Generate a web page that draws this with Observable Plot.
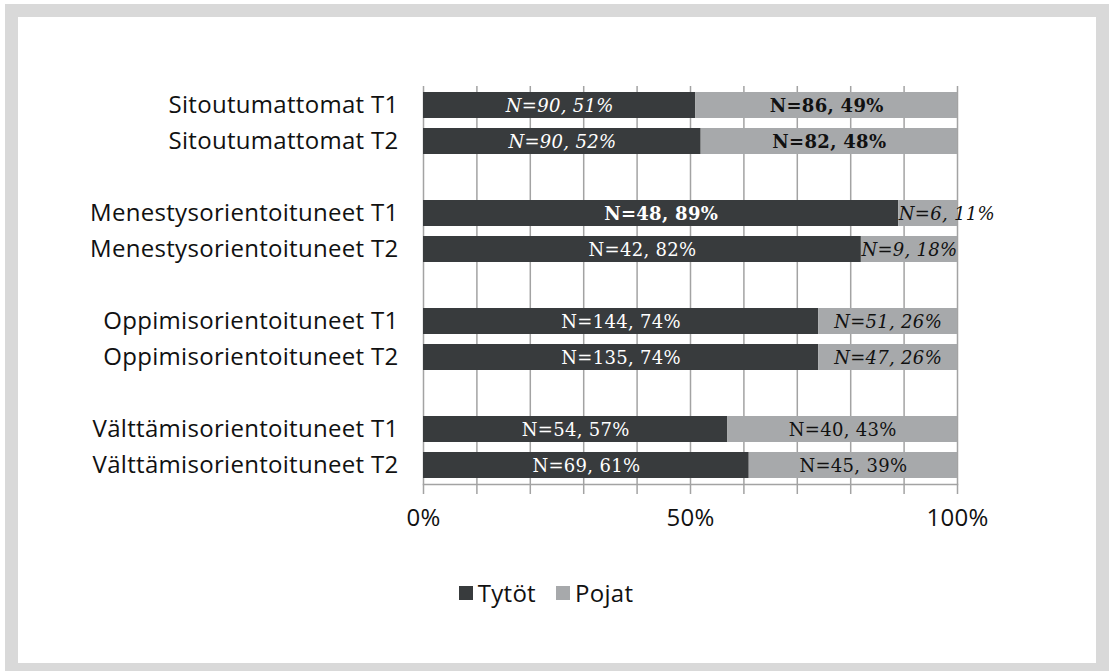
<!DOCTYPE html>
<html>
<head>
<meta charset="utf-8">
<script src="https://cdn.jsdelivr.net/npm/d3@7"></script>
<script src="https://cdn.jsdelivr.net/npm/@observablehq/plot@0.6"></script>
<style>
  html, body { margin: 0; padding: 0; background: #ffffff; }
  body { width: 1112px; height: 671px; position: relative; overflow: hidden; }
  #frame { position: absolute; left: 5px; top: 4px; width: 1104px; height: 680px; background: #d9d9d9; }
  #inner { position: absolute; left: 18px; top: 17px; width: 1078px; height: 646px; background: #ffffff; }
  #chart { position: absolute; left: 0; top: 0; }
  #chart svg { overflow: visible; }
  #legend { position: absolute; left: 0; top: 576px; width: 1092px; display: flex; justify-content: center;
            font-family: "Open Sans", Lato, sans-serif; font-size: 24px; letter-spacing: 0.3px; color: #111; }
  .item { display: flex; align-items: center; margin: 0 10px; }
  .sw { width: 14px; height: 14px; display: inline-block; margin-right: 5px; }
</style>
</head>
<body>
<div id="frame"></div>
<div id="inner"></div>
<div id="chart"></div>
<div id="legend"></div>
<script>
// ---- data ----
const groups = [
  "Sitoutumattomat T1", "Sitoutumattomat T2",
  "Menestysorientoituneet T1", "Menestysorientoituneet T2",
  "Oppimisorientoituneet T1", "Oppimisorientoituneet T2",
  "Välttämisorientoituneet T1", "Välttämisorientoituneet T2"
];
const series = ["Tytöt", "Pojat"];
const girlsN   = [90, 90, 48, 42, 144, 135, 54, 69];
const girlsPct = [51, 52, 89, 82, 74, 74, 57, 61];
const boysN    = [86, 82, 6, 9, 51, 47, 40, 45];
const boysPct  = [49, 48, 11, 18, 26, 26, 43, 39];
const xTicks = [0, 50, 100];

// label typography as in the original (per segment)
const girlsLabelStyle = ["italic", "italic", "bold", "normal", "normal", "normal", "normal", "normal"];
const boysLabelStyle  = ["bold", "bold", "italicStart", "italic", "italic", "italic", "normal", "normal"];

const colors = ["#383b3d", "#a7a9ab"];

// band domain with empty rows between the groups
const yDomain = [
  groups[0], groups[1], "gap1",
  groups[2], groups[3], "gap2",
  groups[4], groups[5], "gap3",
  groups[6], groups[7]
];

const table = [];
groups.forEach((g, i) => {
  table.push({row: g, sex: series[0], pct: girlsPct[i], label: `N=${girlsN[i]}, ${girlsPct[i]}%`, st: girlsLabelStyle[i]});
  table.push({row: g, sex: series[1], pct: boysPct[i], label: `N=${boysN[i]}, ${boysPct[i]}%`, st: boysLabelStyle[i]});
});

const gridColor = "#a3a3a3";
const labelFont = "'DejaVu Serif', 'Liberation Serif', serif";
const txtFill = d => d.sex === series[0] ? "#ffffff" : "#111111";

function labels(style, extra = {}) {
  return Plot.text(table, Plot.stackX({
    x: "pct", y: "row", z: "sex",
    text: d => d.st === style ? d.label : null,
    fill: txtFill,
    fontFamily: labelFont,
    fontSize: 18,
    dy: 1,
    ...extra
  }));
}

const chart = Plot.plot({
  width: 1112,
  height: 560,
  marginTop: 86,
  marginBottom: 76,
  marginLeft: 423,
  marginRight: 155,
  style: {fontFamily: "'Open Sans', Lato, sans-serif", background: "transparent", color: "#111", letterSpacing: "0.3px"},
  x: {domain: [0, 100]},
  y: {domain: yDomain, paddingInner: 0.28, paddingOuter: 0.14},
  color: {domain: series, range: colors},
  marks: [
    Plot.gridX(d3.range(0, 101, 10), {stroke: gridColor, strokeOpacity: 1, strokeWidth: 1.5}),
    Plot.frame({anchor: "bottom", stroke: gridColor, strokeWidth: 1.5}),
    Plot.axisX(d3.range(0, 101, 10), {tickSize: 10, text: null, stroke: gridColor, strokeWidth: 1.5, label: null}),
    Plot.axisX(xTicks, {tickSize: 0, tickPadding: 24, fontSize: 24, tickFormat: d => d + "%", label: null}),
    Plot.axisY(groups, {tickSize: 0, tickPadding: 25, fontSize: 24, label: null}),
    Plot.barX(table, Plot.stackX({x: "pct", y: "row", z: "sex", fill: "sex"})),
    labels("normal"),
    labels("italic", {fontStyle: "italic"}),
    labels("bold", {fontWeight: "bold"}),
    Plot.text(table, Plot.stackX1({
      x: "pct", y: "row", z: "sex",
      text: d => d.st === "italicStart" ? d.label : null,
      fill: txtFill, fontFamily: labelFont, fontSize: 18, fontStyle: "italic",
      textAnchor: "start", dy: 1, dx: 0
    }))
  ]
});
document.getElementById("chart").appendChild(chart);

// legend below the chart
const legend = document.getElementById("legend");
series.forEach((s, i) => {
  const item = document.createElement("span");
  item.className = "item";
  const sw = document.createElement("span");
  sw.className = "sw";
  sw.style.background = colors[i];
  item.appendChild(sw);
  item.appendChild(document.createTextNode(s));
  legend.appendChild(item);
});
</script>
</body>
</html>
